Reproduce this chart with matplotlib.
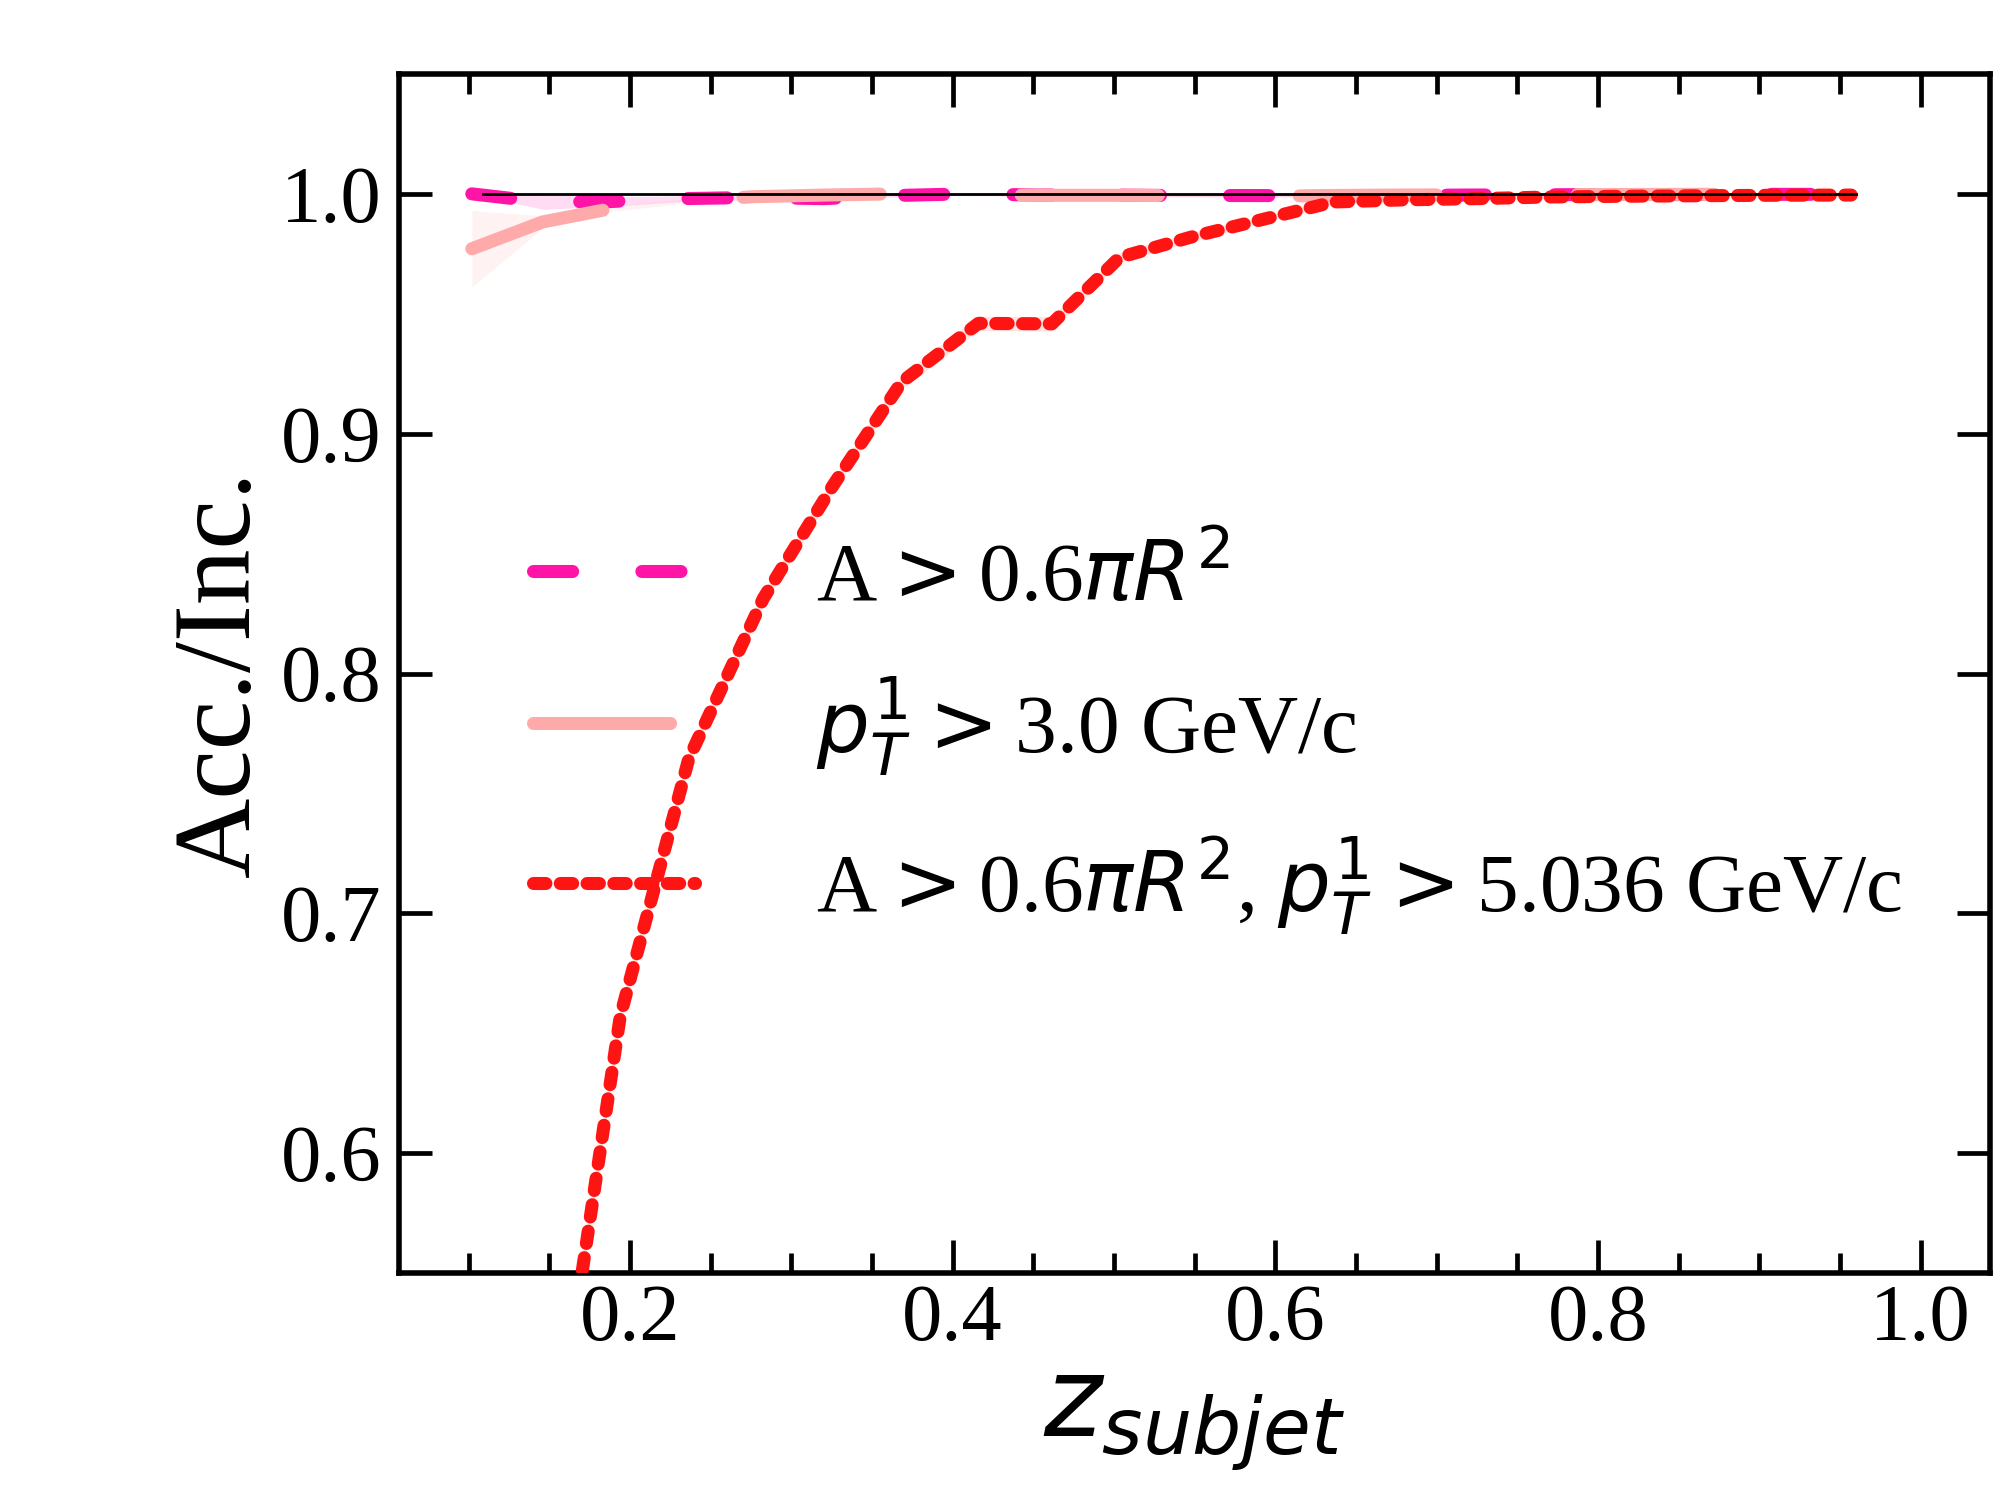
import matplotlib
matplotlib.use("Agg")
import matplotlib.pyplot as plt

plt.rcParams['font.family'] = ['Liberation Serif', 'DejaVu Serif']
plt.rcParams['mathtext.fontset'] = 'dejavusans'

# area cut only (pink) and leading-pT cut only (salmon)
x_cut = [0.102, 0.146, 0.188, 0.232, 0.276, 0.32, 0.364, 0.408, 0.452, 0.496,
         0.54, 0.584, 0.628, 0.672, 0.716, 0.76, 0.804, 0.848, 0.892, 0.936, 0.957]
y_area = [1.0, 0.9966, 0.9968, 0.998, 0.9985, 0.998, 0.9993, 1.0, 0.9995, 0.9995,
          0.9993, 0.9993, 0.9992, 0.9993, 0.9995, 0.9996, 0.9997, 0.9997, 0.9998, 0.9998, 0.9998]
err_area = [0.0, 0.003, 0.002, 0.0012, 0.001, 0.0008, 0.0006, 0.0005, 0.0005, 0.0005,
            0.0005, 0.0005, 0.0005, 0.0005, 0.0004, 0.0004, 0.0004, 0.0004, 0.0004, 0.0004, 0.0004]
y_pt = [0.9771, 0.9883, 0.9938, 0.9968, 0.9988, 0.9995, 1.0, 0.9996, 0.9994, 0.9994,
        0.9993, 0.9988, 0.9993, 0.9995, 0.9996, 0.9997, 0.9997, 0.9998, 0.9998, 0.9998, 0.9998]
err_pt = [0.016, 0.0025, 0.0012, 0.0008, 0.0006, 0.0005, 0.0005, 0.0005, 0.0005, 0.0005,
          0.0005, 0.0005, 0.0005, 0.0004, 0.0004, 0.0004, 0.0004, 0.0004, 0.0004, 0.0004, 0.0004]

# both cuts (red)
x_both = [0.151, 0.194, 0.2365, 0.2826, 0.3255, 0.3685, 0.416, 0.4615, 0.5035, 0.548,
          0.592, 0.636, 0.68, 0.725, 0.77, 0.815, 0.86, 0.905, 0.957]
y_both = [0.463, 0.657, 0.7645, 0.8312, 0.878, 0.9216, 0.946, 0.9458, 0.9735, 0.982,
          0.9893, 0.9966, 0.9975, 0.998, 0.9987, 0.999, 0.9992, 0.9994, 0.9995]
err_both = [0.004, 0.004, 0.003, 0.003, 0.003, 0.003, 0.003, 0.003, 0.002, 0.002,
            0.0015, 0.001, 0.001, 0.0008, 0.0008, 0.0006, 0.0006, 0.0006, 0.0006]

ref_x = [0.109, 0.96]
ref_y = [1.0, 1.0]

labels = [r'A$>$0.6$\pi R^2$',
          r'$p_T^1>$3.0 GeV/c',
          r'A$>$0.6$\pi R^2$, $p_T^1>$5.036 GeV/c']

c_area = '#ff14a8'
c_pt = '#ffaaaa'
c_both = '#ff1414'

fig = plt.figure(figsize=(10, 7.5), dpi=200)
ax = fig.add_axes([0.1996, 0.1513, 0.7954, 0.7994])

lw = 4.7
lo_a = [y - e for y, e in zip(y_area, err_area)]
hi_a = [y + e for y, e in zip(y_area, err_area)]
lo_p = [y - e for y, e in zip(y_pt, err_pt)]
hi_p = [y + e for y, e in zip(y_pt, err_pt)]
lo_b = [y - e for y, e in zip(y_both, err_both)]
hi_b = [y + e for y, e in zip(y_both, err_both)]

ax.fill_between(x_cut, lo_a, hi_a, color=c_area, alpha=0.15, lw=0)
ax.fill_between(x_cut, lo_p, hi_p, color=c_pt, alpha=0.15, lw=0)
ax.fill_between(x_both, lo_b, hi_b, color=c_both, alpha=0.12, lw=0)

ax.plot(ref_x, ref_y, color='black', lw=1.0, zorder=5)
ax.plot(x_cut, y_area, color=c_area, lw=lw, ls=(0, (3.0, 5.3)),
        dash_capstyle='round', solid_capstyle='round', label=labels[0], zorder=2)
ax.plot(x_cut, y_pt, color=c_pt, lw=lw, ls=(0, (10.5, 10.8)),
        dash_capstyle='round', solid_capstyle='round', label=labels[1], zorder=3)
ax.plot(x_both, y_both, color=c_both, lw=lw, ls=(0, (0.95, 1.1)),
        dash_capstyle='round', solid_capstyle='round', label=labels[2], zorder=4)

ax.set_xlim(0.057, 1.043)
ax.set_ylim(0.55, 1.05)
ax.set_xticks([0.2, 0.4, 0.6, 0.8, 1.0])
ax.set_xticks([0.1, 0.15, 0.25, 0.3, 0.35, 0.45, 0.5, 0.55, 0.65, 0.7, 0.75,
               0.85, 0.9, 0.95, 1.0], minor=True)
ax.set_yticks([0.6, 0.7, 0.8, 0.9, 1.0])
ax.tick_params(which='both', direction='in', top=True, right=True, labelsize=29)
ax.tick_params(which='major', length=11.9, width=1.7)
ax.tick_params(which='minor', length=7.2, width=1.7)
ax.tick_params(axis='x', which='major', pad=4)
ax.tick_params(axis='y', which='major', pad=6.5)
for s in ax.spines.values():
    s.set_linewidth(2.0)

ax.set_xlabel(r'$z_{subjet}$', fontsize=40, labelpad=6)
ax.set_ylabel('Acc./Inc.', fontsize=40, labelpad=3)

ax.legend(loc='center left', bbox_to_anchor=(0.084, 0.4465), frameon=False,
          fontsize=30, borderpad=0, borderaxespad=0, handlelength=1.95,
          handletextpad=1.45, labelspacing=0.68)

fig.savefig('out.png', dpi=200)
